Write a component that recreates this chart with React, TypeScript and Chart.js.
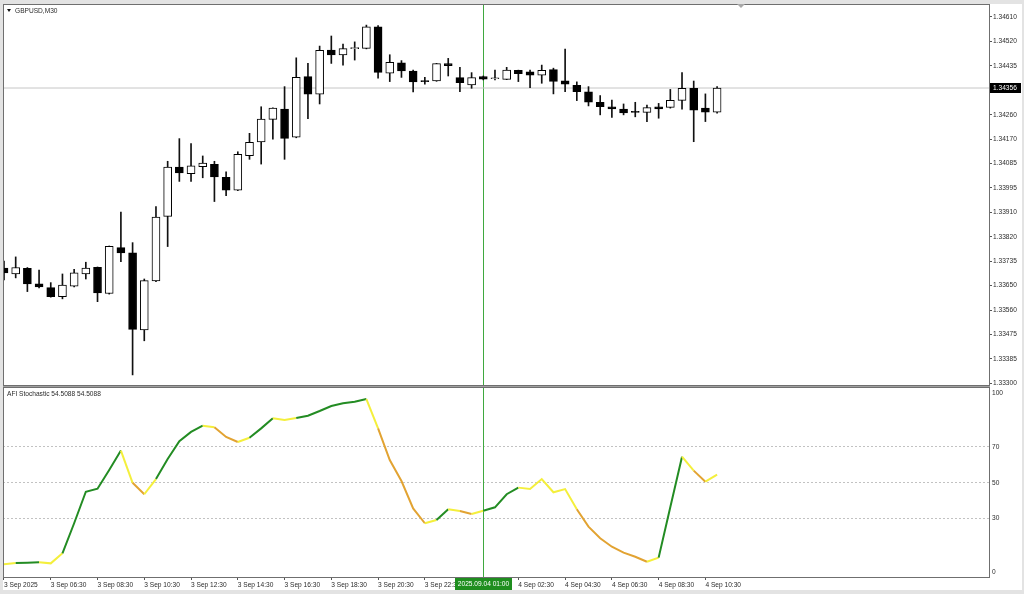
import React, { useEffect, useRef } from 'react';
import { Chart, registerables } from 'chart.js';
Chart.register(...registerables);

// ---------- data ----------
const symbolTitle = 'GBPUSD,M30';
const indicatorTitle = 'AFI Stochastic 54.5088 54.5088';
const crosshairIndex = 41;
const crosshairLabel = '2025.09.04 01:00';
const bidPrice = 1.34356;
const bidLabel = '1.34356';

const opens = [1.33712, 1.33691, 1.33711, 1.33656, 1.33642, 1.33610, 1.33647, 1.33691, 1.33715, 1.33621,
  1.33785, 1.33767, 1.33491, 1.33666, 1.33897, 1.34073, 1.34050, 1.34075, 1.34083, 1.34037,
  1.33991, 1.34114, 1.34163, 1.34244, 1.34281, 1.34180, 1.34397, 1.34334, 1.34492, 1.34474,
  1.34497, 1.34498, 1.34575, 1.34409, 1.34446, 1.34417, 1.34380, 1.34381, 1.34443, 1.34393,
  1.34367, 1.34397, 1.34389, 1.34387, 1.34419, 1.34414, 1.34402, 1.34422, 1.34382, 1.34366,
  1.34342, 1.34305, 1.34289, 1.34281, 1.34270, 1.34269, 1.34289, 1.34287, 1.34312, 1.34355,
  1.34284, 1.34270];
const highs = [1.33737, 1.33752, 1.33714, 1.33705, 1.33660, 1.33691, 1.33708, 1.33733, 1.33716, 1.33791,
  1.33912, 1.33803, 1.33673, 1.33932, 1.34094, 1.34175, 1.34157, 1.34113, 1.34094, 1.34056,
  1.34128, 1.34194, 1.34289, 1.34285, 1.34361, 1.34464, 1.34444, 1.34506, 1.34542, 1.34513,
  1.34521, 1.34581, 1.34579, 1.34475, 1.34454, 1.34420, 1.34394, 1.34444, 1.34462, 1.34430,
  1.34411, 1.34399, 1.34420, 1.34430, 1.34420, 1.34420, 1.34438, 1.34427, 1.34495, 1.34378,
  1.34361, 1.34329, 1.34313, 1.34299, 1.34305, 1.34295, 1.34301, 1.34351, 1.34411, 1.34381,
  1.34335, 1.34361];
const lows = [1.33670, 1.33677, 1.33628, 1.33641, 1.33608, 1.33602, 1.33645, 1.33673, 1.33592, 1.33619,
  1.33735, 1.33330, 1.33452, 1.33663, 1.33789, 1.34022, 1.34022, 1.34035, 1.33950, 1.33971,
  1.33989, 1.34101, 1.34084, 1.34173, 1.34101, 1.34178, 1.34246, 1.34299, 1.34444, 1.34438,
  1.34456, 1.34496, 1.34391, 1.34379, 1.34394, 1.34342, 1.34370, 1.34380, 1.34399, 1.34343,
  1.34355, 1.34385, 1.34385, 1.34386, 1.34379, 1.34357, 1.34373, 1.34335, 1.34343, 1.34311,
  1.34292, 1.34260, 1.34251, 1.34260, 1.34253, 1.34236, 1.34248, 1.34284, 1.34280, 1.34164,
  1.34236, 1.34266];
const closes = [1.33695, 1.33714, 1.33655, 1.33645, 1.33610, 1.33651, 1.33695, 1.33712, 1.33623, 1.33790,
  1.33766, 1.33493, 1.33667, 1.33894, 1.34073, 1.34052, 1.34078, 1.34088, 1.34038, 1.33991,
  1.34119, 1.34162, 1.34245, 1.34284, 1.34176, 1.34394, 1.34334, 1.34491, 1.34474, 1.34497,
  1.34498, 1.34575, 1.34412, 1.34448, 1.34417, 1.34378, 1.34379, 1.34443, 1.34436, 1.34375,
  1.34393, 1.34388, 1.34391, 1.34420, 1.34407, 1.34402, 1.34419, 1.34380, 1.34370, 1.34343,
  1.34305, 1.34289, 1.34281, 1.34267, 1.34269, 1.34286, 1.34281, 1.34312, 1.34355, 1.34277,
  1.34270, 1.34356];

const stochValues = [4.5, 5.2, 5.4, 5.6, 5.0, 10.6, 27.4, 45.0, 46.7, 57.2,
  68.0, 50.0, 43.6, 52.1, 63.3, 73.2, 78.4, 81.9, 81.0, 75.6,
  72.8, 75.2, 80.4, 86.0, 85.1, 86.2, 87.5, 90.1, 92.9, 94.4,
  95.3, 96.8, 80.4, 62.7, 51.0, 35.7, 27.4, 29.2, 35.2, 34.2,
  32.6, 34.4, 36.3, 43.6, 47.3, 46.5, 52.1, 44.7, 46.5, 35.2,
  25.5, 19.0, 14.3, 11.0, 8.7, 5.9, 8.2, 36.5, 64.6, 56.8,
  50.6, 54.5088];
// colour of the segment that ends at each point: g = green, y = yellow, o = orange
const stochColors = ['y', 'y', 'g', 'g', 'y', 'y', 'g', 'g', 'g', 'g',
  'g', 'y', 'o', 'y', 'g', 'g', 'g', 'g', 'y', 'o',
  'o', 'y', 'g', 'g', 'y', 'y', 'g', 'g', 'g', 'g',
  'g', 'g', 'y', 'o', 'o', 'o', 'o', 'y', 'g', 'y',
  'o', 'y', 'g', 'g', 'g', 'y', 'y', 'y', 'y', 'y',
  'o', 'o', 'o', 'o', 'o', 'o', 'y', 'g', 'g', 'y',
  'o', 'y'];

const xTickIndex = [0, 4, 8, 12, 16, 20, 24, 28, 32, 36, 40, 44, 48, 52, 56, 60];
const xTickLabels = ['3 Sep 2025', '3 Sep 06:30', '3 Sep 08:30', '3 Sep 10:30', '3 Sep 12:30', '3 Sep 14:30',
  '3 Sep 16:30', '3 Sep 18:30', '3 Sep 20:30', '3 Sep 22:30', '4 Sep 00:30', '4 Sep 02:30', '4 Sep 04:30',
  '4 Sep 06:30', '4 Sep 08:30', '4 Sep 10:30'];

// price scale labels, evenly spaced from first to last (slot 3 hidden by the bid label)
const priceTickLabels = ['1.34610', '1.34520', '1.34435', null, '1.34260', '1.34170', '1.34085', '1.33995',
  '1.33910', '1.33820', '1.33735', '1.33650', '1.33560', '1.33475', '1.33385', '1.33300'];
const stochTicks = [0, 30, 50, 70, 100];
const stochLevels = [30, 50, 70];

// ---------- styles / layout ----------
const FONT = { family: '"Liberation Sans", Arial, sans-serif', size: 6.6 };
const TEXT = '#2b2b2b';
const FRAME = '#6f6f6f';
const GREEN = '#238c23';
const CROSS = '#3fa83f';
const YELLOW = '#f4ef3c';
const ORANGE = '#e2a332';
const colorMap: Record<string, string> = { g: GREEN, y: YELLOW, o: ORANGE };
const X_MIN = -0.0855;
const X_MAX = 84.26;
const PRICE_MAX = 1.346529;
const PRICE_MIN = 1.332939;
const STOCH_MIN = -2.63;
const STOCH_MAX = 102.96;

const firstLabel = parseFloat(priceTickLabels[0] as string);
const lastLabel = parseFloat(priceTickLabels[priceTickLabels.length - 1] as string);
const labelStep = (firstLabel - lastLabel) / (priceTickLabels.length - 1);
const shownPriceTicks = priceTickLabels
  .map((t, k) => ({ value: firstLabel - k * labelStep, text: t }))
  .filter((t) => t.text !== null);

const noPad = (s: any) => { s.paddingTop = 0; s.paddingBottom = 0; s.paddingLeft = 0; s.paddingRight = 0; };

const framePlugin = {
  id: 'frame',
  afterDraw(chart: any) {
    const { ctx, chartArea: a } = chart;
    ctx.save();
    ctx.strokeStyle = FRAME;
    ctx.lineWidth = 1;
    ctx.strokeRect(Math.floor(a.left) + 0.5, Math.floor(a.top) - 0.5, Math.round(a.right) - Math.floor(a.left), Math.round(a.bottom) - Math.floor(a.top) + 1);
    ctx.restore();
  },
};

const mainExtras = {
  id: 'mainExtras',
  beforeDatasetsDraw(chart: any) {
    const { ctx, chartArea: a } = chart;
    const x = Math.round(chart.scales.x.getPixelForValue(crosshairIndex));
    ctx.save();
    ctx.fillStyle = CROSS;
    ctx.fillRect(x, a.top, 1, a.bottom - a.top);
    ctx.restore();
  },
  afterDraw(chart: any) {
    const { ctx, chartArea: a } = chart;
    ctx.save();
    // title
    ctx.fillStyle = '#111';
    ctx.beginPath();
    ctx.moveTo(a.left + 4, a.top + 4);
    ctx.lineTo(a.left + 8, a.top + 4);
    ctx.lineTo(a.left + 6, a.top + 7);
    ctx.closePath();
    ctx.fill();
    ctx.fillStyle = TEXT;
    ctx.font = `${FONT.size}px ${FONT.family}`;
    ctx.textBaseline = 'middle';
    ctx.textAlign = 'left';
    ctx.fillText(symbolTitle, a.left + 12, a.top + 6);
    // bid label
    const y = chart.scales.y.getPixelForValue(bidPrice);
    ctx.fillStyle = '#000';
    ctx.fillRect(a.right + 1, Math.round(y) - 5, 31, 10);
    ctx.fillStyle = '#fff';
    ctx.fillText(bidLabel, a.right + 4, Math.round(y));
    // chart shift marker
    ctx.fillStyle = '#a8a8a8';
    ctx.beginPath();
    ctx.moveTo(737, a.top - 1);
    ctx.lineTo(745, a.top - 1);
    ctx.lineTo(741, a.top + 3);
    ctx.closePath();
    ctx.fill();
    ctx.restore();
  },
};

const stochExtras = {
  id: 'stochExtras',
  beforeDatasetsDraw(chart: any) {
    const { ctx, chartArea: a } = chart;
    const x = Math.round(chart.scales.x.getPixelForValue(crosshairIndex));
    ctx.save();
    ctx.fillStyle = CROSS;
    ctx.fillRect(x, a.top, 1, chart.height - a.top);
    ctx.restore();
  },
  afterDraw(chart: any) {
    const { ctx, chartArea: a } = chart;
    const x = Math.round(chart.scales.x.getPixelForValue(crosshairIndex));
    ctx.save();
    ctx.font = `${FONT.size}px ${FONT.family}`;
    ctx.textBaseline = 'middle';
    ctx.fillStyle = TEXT;
    ctx.textAlign = 'left';
    ctx.fillText(indicatorTitle, a.left + 4, a.top + 6.5);
    ctx.fillStyle = '#1f8e1f';
    ctx.fillRect(x - 28, a.bottom + 1, 57, 12);
    ctx.fillStyle = '#fff';
    ctx.textAlign = 'center';
    ctx.fillText(crosshairLabel, x + 0.5, a.bottom + 7);
    ctx.restore();
  },
};

export default function App() {
  const mainRef = useRef<HTMLCanvasElement>(null);
  const stochRef = useRef<HTMLCanvasElement>(null);

  useEffect(() => {
    const wicks = highs.map((h, i) => ({ x: i, y: [lows[i], h] }));
    const bodies = opens.map((o, i) => ({ x: i, y: [o, closes[i]] }));
    const bodyColors = opens.map((o, i) => (closes[i] >= o ? '#ffffff' : '#000000'));
    const bidLine = [{ x: X_MIN - 1, y: bidPrice }, { x: X_MAX + 1, y: bidPrice }];

    const main = new Chart(mainRef.current as HTMLCanvasElement, {
      type: 'bar',
      data: {
        datasets: [
          { type: 'line', data: bidLine, borderColor: '#c6c6c6', borderWidth: 1, pointRadius: 0, order: 3 } as any,
          { type: 'bar', data: wicks, backgroundColor: '#111', barThickness: 1, grouped: false, order: 2 } as any,
          {
            type: 'bar', data: bodies, backgroundColor: bodyColors, borderColor: '#000', borderWidth: 1,
            borderSkipped: false, barThickness: 8, grouped: false, order: 1, minBarLength: 1,
          } as any,
        ],
      },
      options: {
        animation: false,
        responsive: false,
        events: [],
        layout: { padding: { left: 3, top: 5, right: 0, bottom: 1 } },
        plugins: { legend: { display: false }, tooltip: { enabled: false } },
        scales: {
          x: { type: 'linear', min: X_MIN, max: X_MAX, display: false, offset: false },
          y: {
            type: 'linear', position: 'right', min: PRICE_MIN, max: PRICE_MAX,
            afterFit: (s: any) => { s.width = 35; noPad(s); },
            afterBuildTicks: (s: any) => { s.ticks = shownPriceTicks.map((t) => ({ value: t.value })); },
            ticks: { callback: (_v: any, i: number) => shownPriceTicks[i].text, font: FONT, color: TEXT, padding: 1, autoSkip: false },
            grid: { drawOnChartArea: false, tickLength: 3, color: '#555' },
            border: { display: false },
          },
        },
      } as any,
      plugins: [framePlugin, mainExtras],
    });

    const stoch = new Chart(stochRef.current as HTMLCanvasElement, {
      type: 'line',
      data: {
        datasets: [{
          data: stochValues.map((v, i) => ({ x: i, y: v })),
          borderColor: GREEN,
          borderWidth: 2,
          pointRadius: 0,
          tension: 0,
          segment: { borderColor: (c: any) => colorMap[stochColors[c.p1DataIndex]] },
        }],
      },
      options: {
        animation: false,
        responsive: false,
        events: [],
        layout: { padding: { left: 3, top: 2, right: 0, bottom: 0 } },
        plugins: { legend: { display: false }, tooltip: { enabled: false } },
        scales: {
          x: {
            type: 'linear', min: X_MIN, max: X_MAX, offset: false,
            afterFit: (s: any) => { s.height = 13; noPad(s); },
            afterBuildTicks: (s: any) => { s.ticks = xTickIndex.map((v) => ({ value: v })); },
            ticks: { callback: (_v: any, i: number) => xTickLabels[i], align: 'start', maxRotation: 0, minRotation: 0, autoSkip: false, font: FONT, color: TEXT, padding: 1 },
            grid: { drawOnChartArea: false, tickLength: 3, color: '#555', offset: false },
            border: { display: false },
          },
          y: {
            type: 'linear', position: 'right', min: STOCH_MIN, max: STOCH_MAX,
            afterFit: (s: any) => { s.width = 35; noPad(s); },
            afterBuildTicks: (s: any) => { s.ticks = stochTicks.map((v) => ({ value: v })); },
            ticks: { font: FONT, color: TEXT, padding: 3, autoSkip: false },
            grid: {
              drawTicks: false,
              color: (c: any) => (c.tick && stochLevels.includes(c.tick.value) ? '#c2c2c2' : 'rgba(0,0,0,0)'),
            },
            border: { display: false, dash: [2, 2] },
          },
        },
      } as any,
      plugins: [framePlugin, stochExtras],
    });

    return () => { main.destroy(); stoch.destroy(); };
  }, []);

  return (
    <div style={{ position: 'fixed', left: 0, top: 0, width: 1024, height: 594, background: '#e3e3e3', overflow: 'hidden' }}>
      <div style={{ position: 'absolute', left: 3, top: 4, width: 1019, height: 586, background: '#ffffff' }} />
      <div style={{ position: 'absolute', left: 3, top: 386, width: 987, height: 1, background: '#a0a0a0' }} />
      <canvas ref={mainRef} width={1024} height={386} style={{ position: 'absolute', left: 0, top: 0, width: 1024, height: 386 }} />
      <canvas ref={stochRef} width={1024} height={204} style={{ position: 'absolute', left: 0, top: 386, width: 1024, height: 204 }} />
    </div>
  );
}
